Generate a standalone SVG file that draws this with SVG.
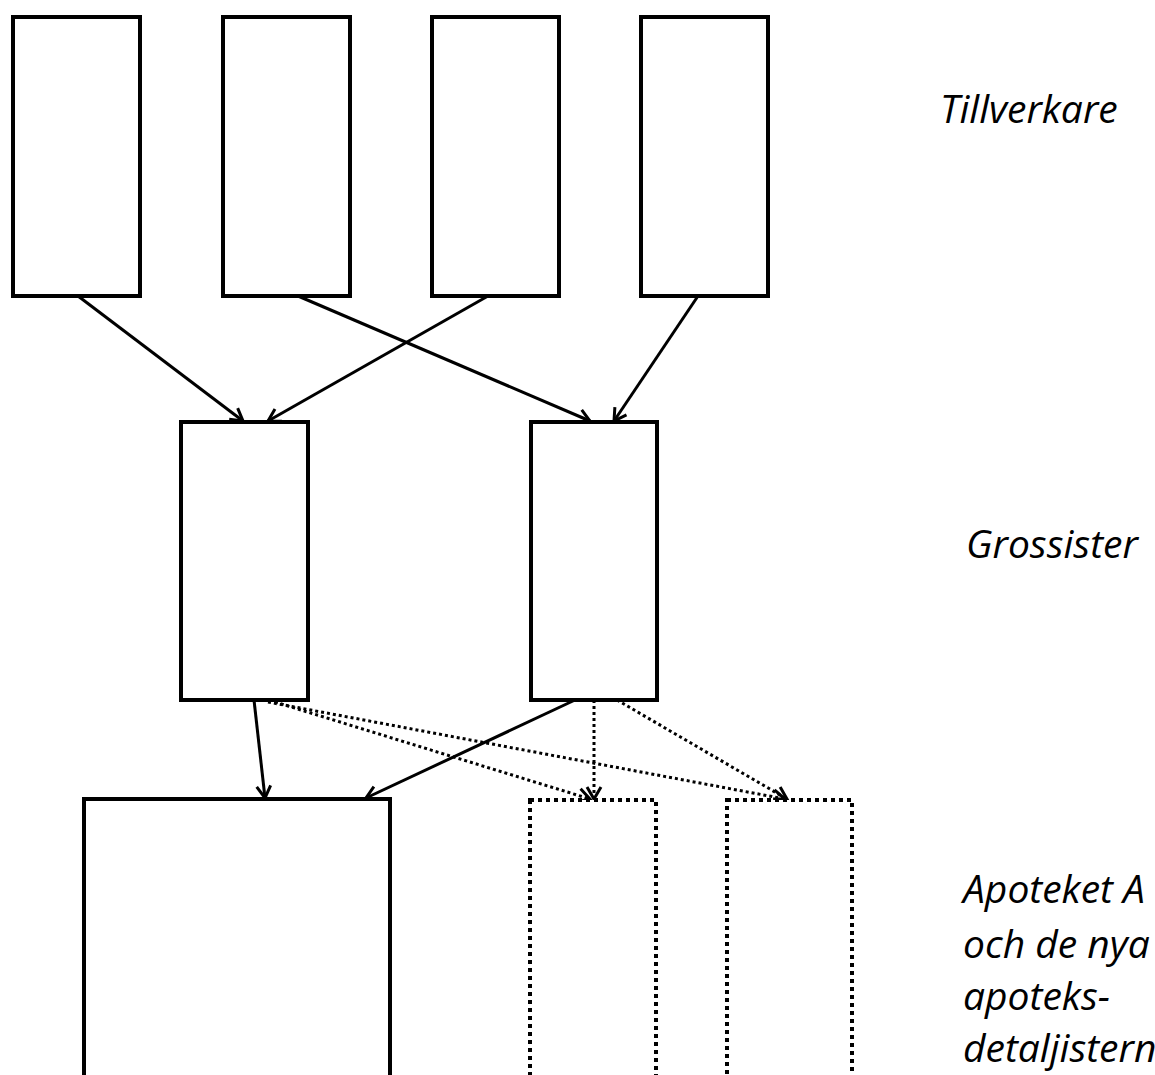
<svg xmlns="http://www.w3.org/2000/svg" width="1155" height="1075" viewBox="0 0 1155 1075">
<style>
.box{fill:#fff;stroke:#000;stroke-width:4}
.dbox{fill:#fff;stroke:#000;stroke-width:4;stroke-dasharray:4 4}
.c{fill:none;stroke:#000;stroke-width:3}
.d{fill:none;stroke:#000;stroke-width:3;stroke-dasharray:3 3}
.t{font-family:"Open Sans","Noto Sans",sans-serif;font-style:italic;font-size:39px;fill:#000}
</style>
<defs>
<marker id="ah" markerWidth="18" markerHeight="18" refX="14" refY="9" orient="auto" markerUnits="userSpaceOnUse">
<polyline points="2,2 14,9 2,16" fill="none" stroke="#000" stroke-width="3"/>
</marker>
</defs>
<rect width="1155" height="1075" fill="#fff"/>
<g id="connectors">
<line class="c" x1="78" y1="296" x2="243" y2="421" marker-end="url(#ah)"/>
<line class="c" x1="298" y1="296" x2="590" y2="421" marker-end="url(#ah)"/>
<line class="c" x1="488" y1="296" x2="268" y2="421" marker-end="url(#ah)"/>
<line class="c" x1="698" y1="296" x2="614" y2="421" marker-end="url(#ah)"/>
<line class="c" x1="254" y1="700" x2="265" y2="798" marker-end="url(#ah)"/>
<line class="c" x1="575" y1="700" x2="366" y2="798" marker-end="url(#ah)"/>
<line class="d" x1="275" y1="702" x2="590" y2="799" marker-end="url(#ah)"/>
<line class="d" x1="268" y1="702" x2="785" y2="799" marker-end="url(#ah)"/>
<line class="d" x1="594" y1="700" x2="594" y2="799" marker-end="url(#ah)"/>
<line class="d" x1="617" y1="700" x2="787" y2="799" marker-end="url(#ah)"/>
</g>
<g id="t1"><rect class="box" x="13" y="17" width="127" height="279"/></g>
<g id="t2"><rect class="box" x="223" y="17" width="127" height="279"/></g>
<g id="t3"><rect class="box" x="432" y="17" width="127" height="279"/></g>
<g id="t4"><rect class="box" x="641" y="17" width="127" height="279"/></g>
<g id="g1"><rect class="box" x="181" y="422" width="127" height="278"/></g>
<g id="g2"><rect class="box" x="531" y="422" width="126" height="278"/></g>
<g id="a1"><rect class="box" x="84" y="799" width="306" height="300"/></g>
<g id="a2"><rect class="dbox" x="530" y="800" width="126" height="300"/></g>
<g id="a3"><rect class="dbox" x="727" y="800" width="125" height="300"/></g>
<g id="labels">
<text class="t" x="940" y="123">Tillverkare</text>
<text class="t" x="966" y="558">Grossister</text>
<text class="t" x="963" y="903">Apoteket A</text>
<text class="t" x="963" y="958">och de nya</text>
<text class="t" x="963" y="1010">apoteks-</text>
<text class="t" x="963" y="1062">detaljistern</text>
</g>
</svg>
